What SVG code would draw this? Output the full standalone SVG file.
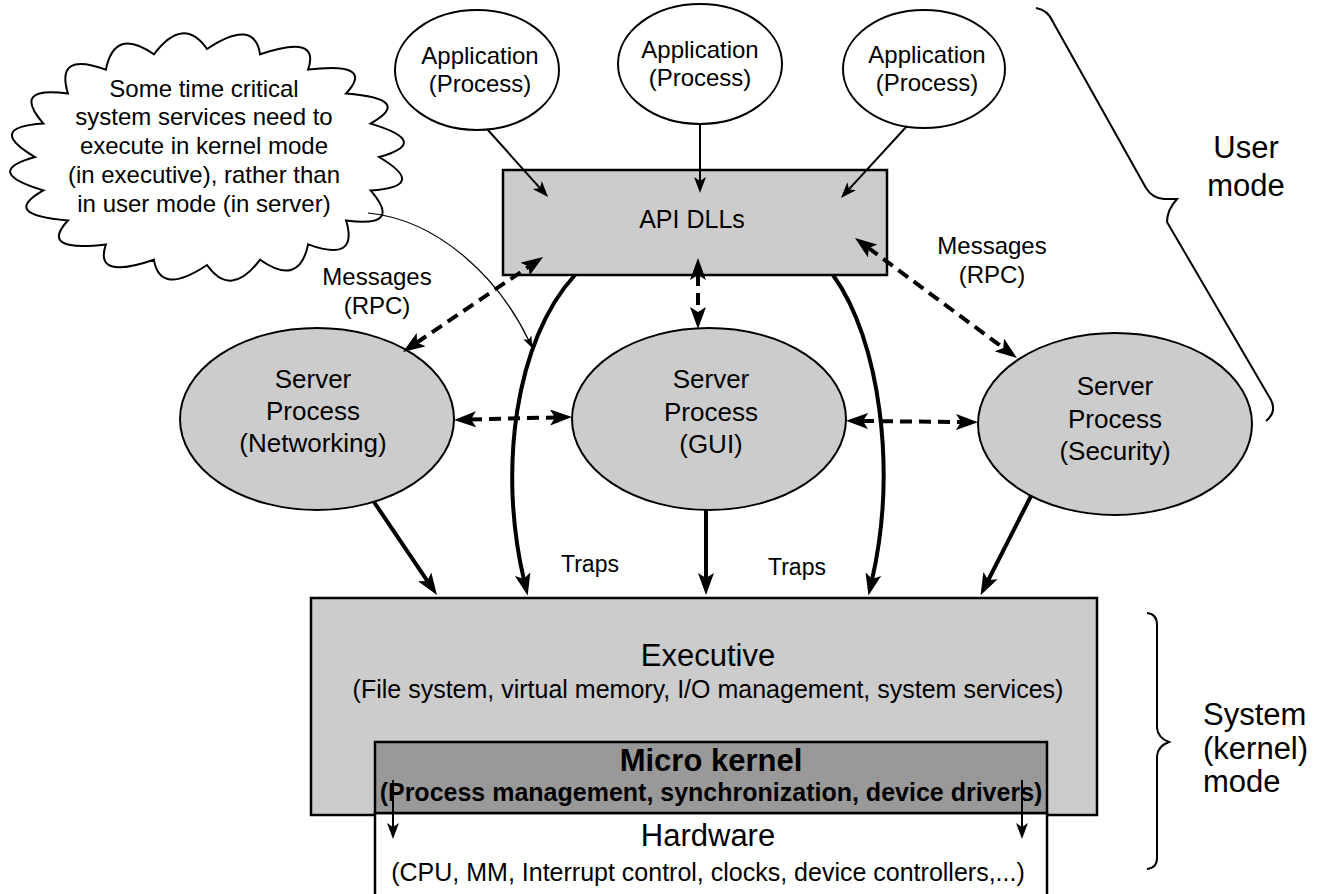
<svg xmlns="http://www.w3.org/2000/svg" width="1323" height="894" viewBox="0 0 1323 894">
<defs>
<style>
text{font-family:"Liberation Sans",Arial,sans-serif;fill:#000;text-anchor:middle}
.app{fill:#fff;stroke:#000;stroke-width:2}
.srv{fill:#cccccc;stroke:#000;stroke-width:2}
.box{fill:#cccccc;stroke:#000;stroke-width:2.5}
.t24{font-size:24px}
.t26{font-size:26px}
.t31{font-size:31px}
.t25{font-size:25px}
.thin{fill:none;stroke:#000;stroke-width:2;marker-end:url(#small)}
.thick{fill:none;stroke:#000;stroke-width:4;marker-end:url(#big)}
.dash{fill:none;stroke:#000;stroke-width:4;stroke-dasharray:12 7;marker-start:url(#big);marker-end:url(#big)}
.brace{fill:none;stroke:#000;stroke-width:2}
</style>
<marker id="big" viewBox="0 0 22 16" markerWidth="22" markerHeight="16" refX="6" refY="8" orient="auto-start-reverse" markerUnits="userSpaceOnUse"><path d="M0,0 L22,8 L0,16 L5,8 z" fill="#000"/></marker>
<marker id="small" viewBox="0 0 16 12" markerWidth="16" markerHeight="12" refX="5" refY="6" orient="auto" markerUnits="userSpaceOnUse"><path d="M0,0 L16,6 L0,12 L4,6 z" fill="#000"/></marker>
<marker id="tiny" viewBox="0 0 12 9" markerWidth="12" markerHeight="9" refX="4" refY="4.5" orient="auto" markerUnits="userSpaceOnUse"><path d="M0,0 L12,4.5 L0,9 L3,4.5 z" fill="#000"/></marker>
</defs>
<rect width="1323" height="894" fill="#fff"/>

<g id="cloud">
<path fill="#fff" stroke="#000" stroke-width="2" d="M379,157 Q429,186.6 370.6,190.4 Q403.6,228.3 346.1,220.5 Q358.9,263 308.1,244.4 Q299.3,287.3 260.1,259.7 Q230.7,298.8 207,265 Q159.8,296.5 153.9,259.7 Q93.5,280.5 105.9,244.4 Q38.3,252.4 67.9,220.5 Q-0.4,215 43.4,190.4 Q-18.7,171.9 35,157 Q-15,127.4 43.4,123.6 Q10.4,85.7 67.9,93.5 Q55.1,51 105.9,69.6 Q114.7,26.7 153.9,54.3 Q183.3,15.2 207,49 Q254.2,17.5 260.1,54.3 Q320.5,33.5 308.1,69.6 Q375.7,61.6 346.1,93.5 Q414.4,99 370.6,123.6 Q432.7,142.1 379,157 Z"/>
<text class="t24" x="204" y="97">Some time critical</text>
<text class="t24" x="204" y="125">system services need to</text>
<text class="t24" x="204" y="154">execute in kernel mode</text>
<text class="t24" x="204" y="183">(in executive), rather than</text>
<text class="t24" x="204" y="212">in user mode (in server)</text>
</g>

<g id="app1"><ellipse class="app" cx="477" cy="70" rx="82" ry="60"/><text class="t24" x="480" y="64">Application</text><text class="t24" x="480" y="92">(Process)</text></g>
<g id="app2"><ellipse class="app" cx="700" cy="64" rx="82" ry="60"/><text class="t24" x="700" y="58">Application</text><text class="t24" x="700" y="86">(Process)</text></g>
<g id="app3"><ellipse class="app" cx="924" cy="69" rx="81" ry="59"/><text class="t24" x="927" y="63">Application</text><text class="t24" x="927" y="91">(Process)</text></g>

<g id="api"><rect class="box" x="503" y="170" width="384" height="105"/><text class="t25" x="692" y="228">API DLLs</text></g>

<g id="srv-net"><ellipse class="srv" cx="317" cy="419" rx="137" ry="91"/><text class="t26" x="313" y="388">Server</text><text class="t26" x="313" y="420">Process</text><text class="t26" x="313" y="452">(Networking)</text></g>
<g id="srv-gui"><ellipse class="srv" cx="709" cy="419" rx="137" ry="91"/><text class="t26" x="711" y="388">Server</text><text class="t26" x="711" y="421">Process</text><text class="t26" x="711" y="453">(GUI)</text></g>
<g id="srv-sec"><ellipse class="srv" cx="1115" cy="424" rx="137" ry="91"/><text class="t26" x="1115" y="395">Server</text><text class="t26" x="1115" y="428">Process</text><text class="t26" x="1115" y="460">(Security)</text></g>

<g id="executive"><rect class="box" x="311" y="598" width="786" height="217"/><text class="t31" x="708" y="666">Executive</text><text class="t25" x="708" y="698">(File system, virtual memory, I/O management, system services)</text></g>
<g id="hardware"><rect fill="#fff" stroke="#000" stroke-width="2.5" x="375" y="813" width="672" height="100"/><text class="t31" x="708" y="846">Hardware</text><text class="t25" x="708" y="881">(CPU, MM, Interrupt control, clocks, device controllers,...)</text></g>
<g id="microkernel"><rect fill="#999999" stroke="#000" stroke-width="2.5" x="375" y="742" width="672" height="71"/><text class="t31" x="711" y="771" font-weight="bold">Micro kernel</text><text class="t25" x="711" y="801" font-weight="bold">(Process management, synchronization, device drivers)</text></g>

<g id="labels">
<text class="t24" x="377" y="285">Messages</text><text class="t24" x="377" y="314">(RPC)</text>
<text class="t24" x="992" y="254">Messages</text><text class="t24" x="992" y="283">(RPC)</text>
<text x="590" y="572" font-size="23px">Traps</text>
<text x="797" y="575" font-size="23px">Traps</text>
<text class="t31" x="1246" y="158">User</text><text class="t31" x="1246" y="196">mode</text>
<text class="t31" x="1203" y="725" style="text-anchor:start">System</text>
<text class="t31" x="1203" y="759" style="text-anchor:start">(kernel)</text>
<text class="t31" x="1203" y="792" style="text-anchor:start">mode</text>
<path class="brace" d="M1036,8 Q1048,10 1053,22 L1146,188 Q1152,198 1164,199 L1177,199 Q1167,210 1167,222 L1271,400 Q1277,412 1266,421"/>
<path class="brace" d="M1147,613 Q1157,614 1157,625 L1157,728 Q1158,738 1169,742 Q1158,746 1157,756 L1157,858 Q1157,868 1147,869"/>
</g>

<g id="connectors">
<line class="thin" x1="487" y1="129" x2="540.7" y2="188.8"/>
<line class="thin" x1="700" y1="124" x2="700" y2="182"/>
<line class="thin" x1="907" y1="126" x2="848.4" y2="189.9"/>
<line class="dash" x1="416.2" y1="343" x2="529.8" y2="266"/>
<line class="dash" x1="698" y1="274" x2="698" y2="313"/>
<line class="dash" x1="867.9" y1="247.5" x2="1004.1" y2="348.5"/>
<line class="dash" x1="470" y1="419.5" x2="556" y2="417.4"/>
<line class="dash" x1="862" y1="421" x2="962" y2="422"/>
<line class="thick" x1="374" y1="502" x2="428" y2="581.8"/>
<line class="thick" x1="706" y1="510" x2="706" y2="579"/>
<line class="thick" x1="1031" y1="496" x2="987.8" y2="581"/>
<path class="thick" d="M575,275 C515,340 498,470 524,580"/>
<path class="thick" d="M833,275 C880,340 897,470 872,580"/>
<path fill="none" stroke="#000" stroke-width="1.2" marker-end="url(#tiny)" d="M368,213 C440,220 500,280 529,341"/>
<line class="thin" x1="393" y1="780" x2="393" y2="828"/>
<line class="thin" x1="1022" y1="780" x2="1022" y2="828"/>
</g>
</svg>
